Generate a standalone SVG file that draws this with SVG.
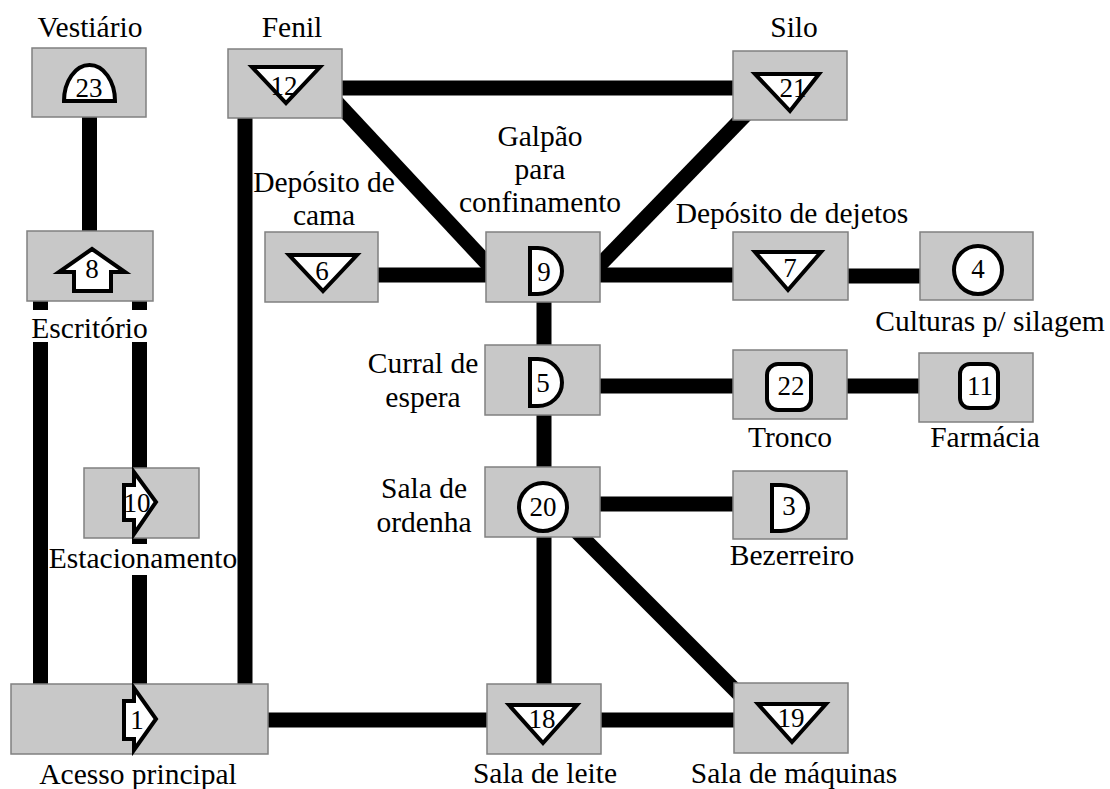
<svg xmlns="http://www.w3.org/2000/svg" width="1110" height="789" viewBox="0 0 1110 789">
<style>
.box{fill:#c8c8c8;stroke:#808080;stroke-width:1.5}
.sym{fill:#fff;stroke:#000;stroke-width:4;stroke-linejoin:miter}
text{font-family:"Liberation Serif","Times New Roman",serif;fill:#000;text-anchor:middle}
.lbl{font-size:29.5px}
.num{font-size:27px}
.con{stroke:#000;stroke-width:15;fill:none}
</style>
<rect width="1110" height="789" fill="#fff"/>
<g id="connectors" class="con">
<line x1="89.5" y1="110" x2="89.5" y2="240"/>
<line x1="40.5" y1="295" x2="40.5" y2="690"/>
<line x1="139.5" y1="295" x2="139.5" y2="690"/>
<line x1="245" y1="110" x2="245" y2="690"/>
<line x1="330" y1="88" x2="745" y2="88"/>
<line x1="330" y1="95" x2="495" y2="272"/>
<line x1="590" y1="275" x2="755" y2="105"/>
<line x1="370" y1="275" x2="745" y2="275"/>
<line x1="840" y1="276" x2="930" y2="276"/>
<line x1="544" y1="295" x2="544" y2="695"/>
<line x1="590" y1="386" x2="930" y2="386"/>
<line x1="590" y1="504" x2="740" y2="504"/>
<line x1="560" y1="515" x2="760" y2="715"/>
<line x1="260" y1="720" x2="740" y2="720"/>
</g>
<rect x="28" y="310" width="122" height="32" fill="#fff"/>
<rect x="49" y="544" width="188" height="31" fill="#fff"/>
<g id="n23">
<rect class="box" x="32" y="48" width="114" height="69"/>
<path class="sym" d="M64,101 A25.5,36 0 0 1 115,101 Z"/>
<text class="num" x="89" y="97">23</text>
<text class="lbl" x="90" y="37">Vestiário</text>
</g>
<g id="n12">
<rect class="box" x="228" y="49" width="114" height="69"/>
<path class="sym" d="M252,67 L320,67 L286,103 Z"/>
<text class="num" x="284" y="95">12</text>
<text class="lbl" x="292" y="37">Fenil</text>
</g>
<g id="n21">
<rect class="box" x="733" y="51" width="114" height="69"/>
<path class="sym" d="M755,74 L819,74 L790,111 Z"/>
<text class="num" x="793" y="97">21</text>
<text class="lbl" x="794" y="37">Silo</text>
</g>
<g id="n8">
<rect class="box" x="27" y="231" width="126" height="70"/>
<path class="sym" d="M92,249 L125,272 L111,272 L111,291 L74,291 L74,272 L59,272 Z"/>
<text class="num" x="92" y="278">8</text>
<text class="lbl" x="89.5" y="338">Escritório</text>
</g>
<g id="n6">
<rect class="box" x="265" y="232" width="113" height="70"/>
<path class="sym" d="M289,255 L357,255 L323,291 Z"/>
<text class="num" x="322" y="280">6</text>
<text class="lbl" x="324" y="192">Depósito de</text>
<text class="lbl" x="324" y="225">cama</text>
</g>
<g id="n9">
<rect class="box" x="486" y="232" width="114" height="70"/>
<path class="sym" d="M530,248 L538,248 A24,23 0 0 1 538,294 L530,294 Z"/>
<text class="num" x="544" y="281">9</text>
<text class="lbl" x="540" y="146">Galpão</text>
<text class="lbl" x="540" y="179">para</text>
<text class="lbl" x="540" y="212">confinamento</text>
</g>
<g id="n7">
<rect class="box" x="733" y="232" width="115" height="68"/>
<path class="sym" d="M755,252 L821,252 L788,290 Z"/>
<text class="num" x="790" y="277">7</text>
<text class="lbl" x="792" y="223">Depósito de dejetos</text>
</g>
<g id="n4">
<rect class="box" x="920" y="232" width="113" height="68"/>
<circle class="sym" cx="978" cy="270" r="24"/>
<text class="num" x="978" y="278">4</text>
<text class="lbl" x="990" y="331">Culturas p/ silagem</text>
</g>
<g id="n5">
<rect class="box" x="485" y="345" width="115" height="70"/>
<path class="sym" d="M530,359 L538,359 A24,23.5 0 0 1 538,406 L530,406 Z"/>
<text class="num" x="543" y="392">5</text>
<text class="lbl" x="423" y="373">Curral de</text>
<text class="lbl" x="423" y="407">espera</text>
</g>
<g id="n22">
<rect class="box" x="733" y="350" width="114" height="69"/>
<rect class="sym" x="767" y="364" width="44" height="46" rx="11"/>
<text class="num" x="791" y="395">22</text>
<text class="lbl" x="790" y="447">Tronco</text>
</g>
<g id="n11">
<rect class="box" x="919" y="353" width="114" height="69"/>
<rect class="sym" x="960" y="364" width="38" height="44" rx="10"/>
<text class="num" x="980" y="395">11</text>
<text class="lbl" x="985" y="447">Farmácia</text>
</g>
<g id="n20">
<rect class="box" x="485" y="467" width="115" height="70"/>
<circle class="sym" cx="543" cy="507" r="24"/>
<text class="num" x="543" y="516">20</text>
<text class="lbl" x="424" y="498">Sala de</text>
<text class="lbl" x="424" y="532">ordenha</text>
</g>
<g id="n3">
<rect class="box" x="733" y="471" width="114" height="68"/>
<path class="sym" d="M772,485 L781,485 A27,23 0 0 1 781,531 L772,531 Z"/>
<text class="num" x="789" y="515">3</text>
<text class="lbl" x="792" y="565">Bezerreiro</text>
</g>
<g id="n10">
<rect class="box" x="84" y="468" width="115" height="70"/>
<path class="sym" d="M124,485 L134,485 L134,472 L156,502 L134,534 L134,520 L124,520 Z"/>
<text class="num" x="137" y="512">10</text>
<text class="lbl" x="143" y="568">Estacionamento</text>
</g>
<g id="n1">
<rect class="box" x="11" y="684" width="257" height="70"/>
<path class="sym" d="M124,701 L134,701 L134,688 L156,719 L134,750 L134,739 L124,739 Z"/>
<text class="num" x="137" y="729">1</text>
<text class="lbl" x="138" y="784">Acesso principal</text>
</g>
<g id="n18">
<rect class="box" x="487" y="684" width="114" height="70"/>
<path class="sym" d="M509,705 L577,705 L543,743 Z"/>
<text class="num" x="542" y="728">18</text>
<text class="lbl" x="545" y="783">Sala de leite</text>
</g>
<g id="n19">
<rect class="box" x="734" y="683" width="114" height="70"/>
<path class="sym" d="M758,704 L826,704 L792,742 Z"/>
<text class="num" x="791" y="727">19</text>
<text class="lbl" x="794" y="783">Sala de máquinas</text>
</g>
</svg>
